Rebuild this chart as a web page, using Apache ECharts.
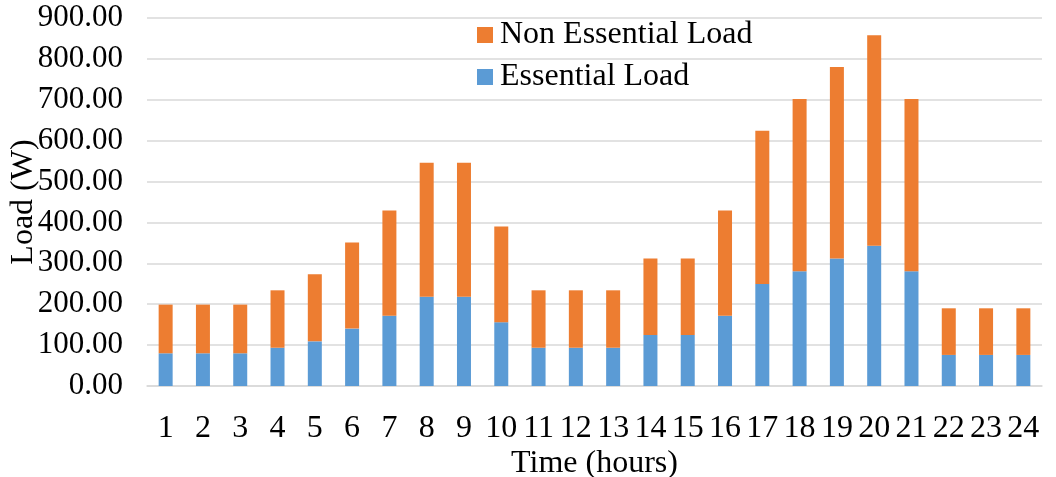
<!DOCTYPE html>
<html>
<head>
<meta charset="utf-8">
<script src="https://cdn.jsdelivr.net/npm/echarts@6/dist/echarts.min.js"></script>
<style>
html,body{margin:0;padding:0;background:#fff;}
#chart{width:1056px;height:477px;}
</style>
</head>
<body>
<div id="chart"></div>
<script>
const hours = ['1','2','3','4','5','6','7','8','9','10','11','12','13','14','15','16','17','18','19','20','21','22','23','24'];
const essentialLoad = [80, 80, 80, 93.6, 109.2, 140.4, 171.6, 218.4, 218.4, 156, 93.6, 93.6, 93.6, 124.8, 124.8, 171.6, 249.6, 280.8, 312, 343.2, 280.8, 76, 76, 76];
const nonEssentialLoad = [119, 119, 119, 140.4, 163.8, 210.6, 257.4, 327.6, 327.6, 234, 140.4, 140.4, 140.4, 187.2, 187.2, 257.4, 374.4, 421.2, 468, 514.8, 421.2, 114, 114, 114];
const yTicks = { min: 0, max: 900, interval: 100 };

const font = '"Liberation Serif", "Times New Roman", serif';
const chart = echarts.init(document.getElementById('chart'), null, { renderer: 'canvas' });
chart.setOption({
  animation: false,
  backgroundColor: '#ffffff',
  textStyle: { fontFamily: font },
  grid: { left: 147, right: 14, top: 18, bottom: 91, containLabel: false, outerBoundsMode: 'none' },
  legend: {
    orient: 'vertical',
    left: 477,
    top: 19,
    padding: 0,
    itemWidth: 16,
    itemHeight: 16,
    itemGap: 10,
    icon: 'rect',
    textStyle: { fontFamily: font, fontSize: 32, color: '#000', padding: [0, 0, 0, 2] },
    data: ['Non Essential Load', 'Essential Load']
  },
  xAxis: {
    type: 'category',
    data: hours,
    name: 'Time (hours)',
    nameLocation: 'middle',
    nameGap: 62,
    nameMoveOverlap: false,
    nameTextStyle: { fontFamily: font, fontSize: 32, color: '#000' },
    axisLine: { show: true, lineStyle: { color: '#d9d9d9', width: 1.5 } },
    axisTick: { show: false },
    axisLabel: { fontFamily: font, fontSize: 32, color: '#000', margin: 27, interval: 0 }
  },
  yAxis: {
    type: 'value',
    min: yTicks.min,
    max: yTicks.max,
    interval: yTicks.interval,
    name: 'Load (W)',
    nameLocation: 'middle',
    nameGap: 107,
    nameMoveOverlap: false,
    nameTextStyle: { fontFamily: font, fontSize: 32, color: '#000' },
    axisLine: { show: false },
    axisTick: { show: false },
    splitLine: { lineStyle: { color: '#d9d9d9', width: 1.5 } },
    axisLabel: {
      fontFamily: font, fontSize: 31, color: '#000', margin: 24,
      formatter: v => v.toFixed(2)
    }
  },
  series: [
    {
      name: 'Essential Load',
      type: 'bar',
      stack: 'load',
      data: essentialLoad,
      barWidth: 14,
      itemStyle: { color: '#5b9bd5' }
    },
    {
      name: 'Non Essential Load',
      type: 'bar',
      stack: 'load',
      data: nonEssentialLoad,
      barWidth: 14,
      itemStyle: { color: '#ed7d31' }
    }
  ]
});
</script>
</body>
</html>
